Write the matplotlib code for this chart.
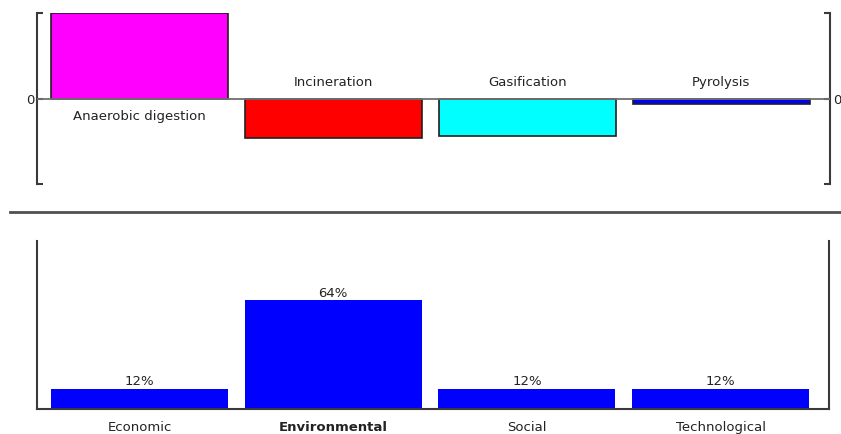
import matplotlib
matplotlib.use("Agg")

import matplotlib.pyplot as plt

# ---------- DATA ----------
alternatives = ["Anaerobic digestion", "Incineration", "Gasification", "Pyrolysis"]
alt_scores = [1.0, -0.46, -0.44, -0.06]
alt_colors = ["#ff00ff", "#ff0000", "#00ffff", "#0000ff"]

criteria = ["Economic", "Environmental", "Social", "Technological"]
criteria_weights = [12, 64, 12, 12]
highlight = "Environmental"

# ---------- THEME ----------
AXIS = "#3a3a3a"
TEXT = "#222222"
FS = 9.5
plt.rcParams["font.family"] = "DejaVu Sans"

fig = plt.figure(figsize=(8.41, 4.35), dpi=100)
fig.patch.set_facecolor("white")

x = list(range(len(alternatives)))
xlim = (-0.53, 3.56)
bar_w = 0.914

# ---------- TOP: alternatives ----------
ax1 = fig.add_axes([37 / 841, 1 - 185 / 435, 793 / 841, 171 / 435])
ax1.bar(x, alt_scores, width=bar_w, color=alt_colors,
        edgecolor="#202020", linewidth=1.2, zorder=2)
ax1.axhline(0, color="#707070", linewidth=1.3, zorder=3)
ax1.set_xlim(*xlim)
ax1.set_ylim(-1.0, 1.0)
ax1.set_xticks([])
ax1.set_yticks([-1.0, 0, 1.0])
ax1.set_yticklabels(["", "0", ""])
ax1.tick_params(axis="y", direction="in", length=4, width=1.5, color=AXIS,
                labelsize=FS, labelcolor=TEXT, right=True, labelright=True, pad=2)
for side in ["top", "bottom"]:
    ax1.spines[side].set_visible(False)
for side in ["left", "right"]:
    ax1.spines[side].set_color(AXIS)
    ax1.spines[side].set_linewidth(1.5)

for xi, name, val in zip(x, alternatives, alt_scores):
    if val >= 0:
        ax1.annotate(name, (xi, 0), xytext=(0, -7.5), textcoords="offset points",
                     ha="center", va="top", fontsize=FS, color=TEXT)
    else:
        ax1.annotate(name, (xi, 0), xytext=(0, 7.5), textcoords="offset points",
                     ha="center", va="bottom", fontsize=FS, color=TEXT)

# separator between the two panels
fig.add_artist(plt.Line2D([10 / 841, 1.0], [1 - 213 / 435] * 2,
                          color="#505050", linewidth=2))

# ---------- BOTTOM: criteria weights ----------
ax2 = fig.add_axes([37 / 841, 1 - 410 / 435, 792 / 841, 168 / 435])
ax2.bar(x, criteria_weights, width=bar_w, color="#0000ff", zorder=2)
ax2.set_xlim(*xlim)
ax2.set_ylim(0, 99)
ax2.set_yticks([])
ax2.set_xticks(x)
ax2.set_xticklabels(criteria)
ax2.tick_params(axis="x", length=0, labelsize=FS, labelcolor=TEXT, pad=8)
for lbl in ax2.get_xticklabels():
    if lbl.get_text() == highlight:
        lbl.set_fontweight("bold")
ax2.spines["top"].set_visible(False)
for side in ["left", "right", "bottom"]:
    ax2.spines[side].set_color(AXIS)
    ax2.spines[side].set_linewidth(1.5)

for xi, w in zip(x, criteria_weights):
    ax2.annotate(f"{w}%", (xi, w), xytext=(0, 1), textcoords="offset points",
                 ha="center", va="bottom", fontsize=FS, color=TEXT)

fig.savefig("out.png", dpi=100)
